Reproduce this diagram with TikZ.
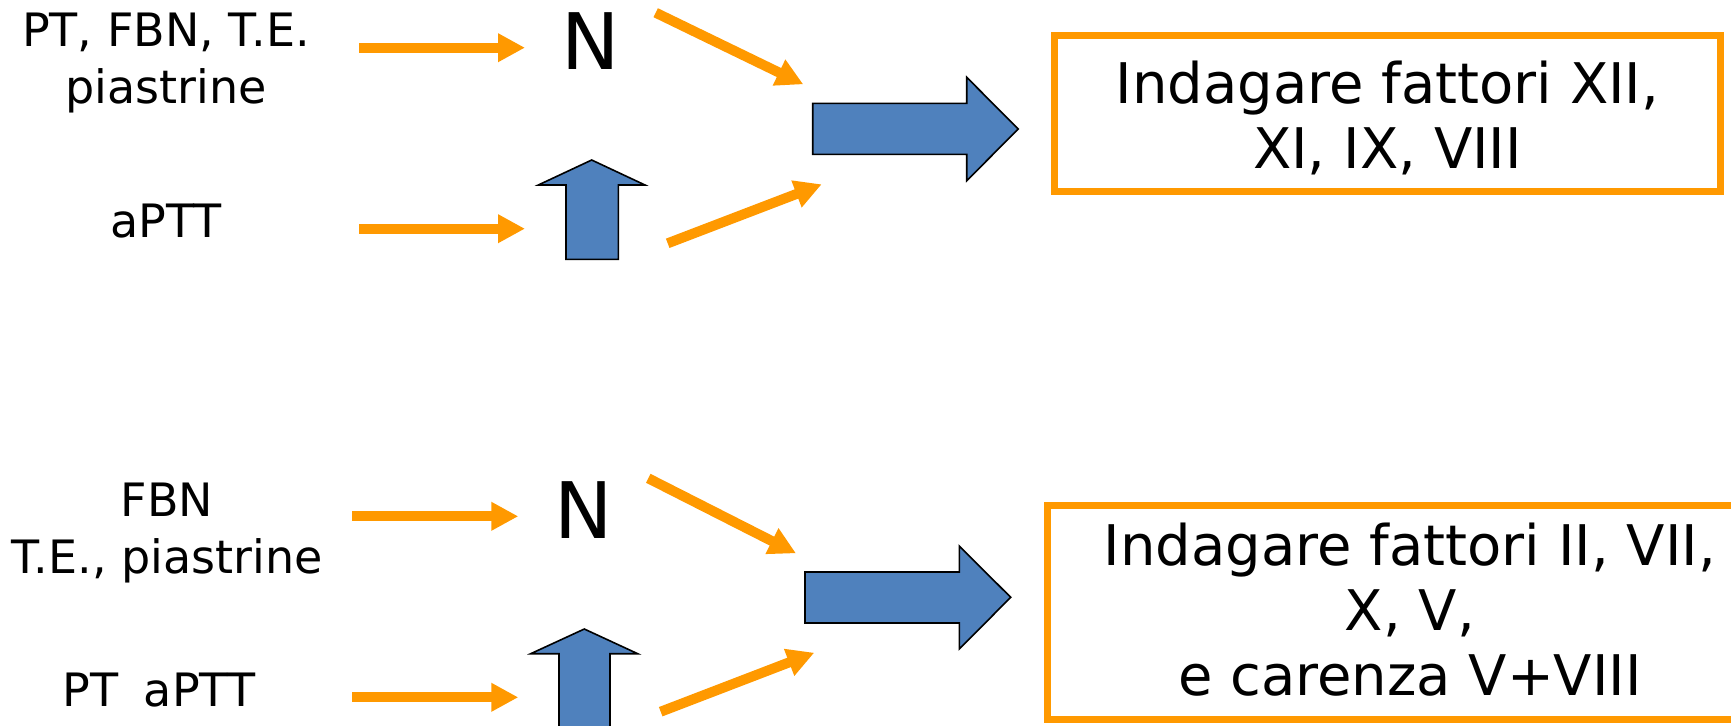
\documentclass[tikz,border=0pt]{standalone}
\usepackage{fontspec}
\setmainfont{DejaVu Sans}
\usetikzlibrary{arrows.meta}
\definecolor{floworange}{RGB}{255,153,0}
\definecolor{blockblue}{RGB}{79,129,189}
\begin{document}
\begin{tikzpicture}[x=0.5pt,y=-0.5pt,
  % multi-line labels sit on the baseline of their last line
  lbl/.style={font=\fontsize{23pt}{28.3pt}\selectfont, align=center, inner sep=0pt, anchor=base},
  nlbl/.style={font=\fontsize{39pt}{40pt}\selectfont, inner sep=0pt, anchor=base},
  boxtxt/.style={font=\fontsize{28pt}{32.3pt}\selectfont, align=center, inner sep=0pt, anchor=base},
  flow/.style={draw=floworange, line width=5pt, -{Triangle[length=13.5pt,width=13.5pt]}},
  block/.style={fill=blockblue, draw=black, line width=0.8pt, line join=miter},
  resultbox/.style={draw=floworange, line width=3.5pt, inner sep=0pt, rectangle},
]
\useasboundingbox (0,0) rectangle (1731,725);
\clip (0,0) rectangle (1731,725);

% ---------- upper row ----------
\node[lbl] (in1) at (166,103) {PT, FBN, T.E.\\piastrine};
\node[lbl] (in2) at (165.8,237.3) {aPTT};
\node[nlbl] (norm1) at (591,69) {N};

\coordinate (a1s) at (359.3,47.7);  \coordinate (a1e) at (525,47.7);
\coordinate (a2s) at (359.3,228.7); \coordinate (a2e) at (525,228.7);
\coordinate (d1s) at (655.7,12.7);  \coordinate (d1e) at (803.3,84.3);
\coordinate (d2s) at (667.7,243.3); \coordinate (d2e) at (821.7,184.3);

\draw[flow] (a1s) -- (a1e);
\draw[flow] (a2s) -- (a2e);
\draw[flow] (d1s) -- (d1e);
\draw[flow] (d2s) -- (d2e);

% raised value
\draw[block] (591.7,160) -- (645,185) -- (618.3,185) -- (618.3,259.3)
  -- (566,259.3) -- (566,185) -- (538.3,185) -- cycle;
% conclusion arrow
\draw[block] (812.7,103.3) -- (966.7,103.3) -- (966.7,77.3) -- (1018.3,129)
  -- (966.7,180.7) -- (966.7,154.3) -- (812.7,154.3) -- cycle;

\node[resultbox, minimum width=333pt, minimum height=77.85pt] (box1) at (1387.5,113.65) {};
\node[boxtxt] (res1) at (1387.5,168) {Indagare fattori XII,\\XI, IX, VIII};

% ---------- lower row ----------
\node[lbl] (in3) at (167,573) {FBN\\T.E., piastrine};
\node[lbl] (in4) at (159,706) {PT\hspace{0.55em}aPTT};
\node[nlbl] (norm2) at (583.3,538.3) {N};

\coordinate (a3s) at (352,516.3); \coordinate (a3e) at (518.3,516.3);
\coordinate (a4s) at (352,697.3); \coordinate (a4e) at (518.3,697.3);
\coordinate (d3s) at (648.3,478.3); \coordinate (d3e) at (796,553.3);
\coordinate (d4s) at (660.7,711.7); \coordinate (d4e) at (814.3,652.7);

\draw[flow] (a3s) -- (a3e);
\draw[flow] (a4s) -- (a4e);
\draw[flow] (d3s) -- (d3e);
\draw[flow] (d4s) -- (d4e);

\draw[block] (584.3,629) -- (637.7,653.7) -- (610,653.7) -- (610,745)
  -- (559,745) -- (559,653.7) -- (530.7,653.7) -- cycle;
\draw[block] (805,572) -- (959.3,572) -- (959.3,546) -- (1010.7,597.3)
  -- (959.3,649) -- (959.3,623) -- (805,623) -- cycle;

\node[resultbox, minimum width=366.25pt, minimum height=107.15pt] (box2) at (1413.75,612.35) {};
\node[boxtxt] (res2) at (1410,695) {Indagare fattori II, VII,\\X, V,\\e carenza V+VIII};
\end{tikzpicture}
\end{document}
